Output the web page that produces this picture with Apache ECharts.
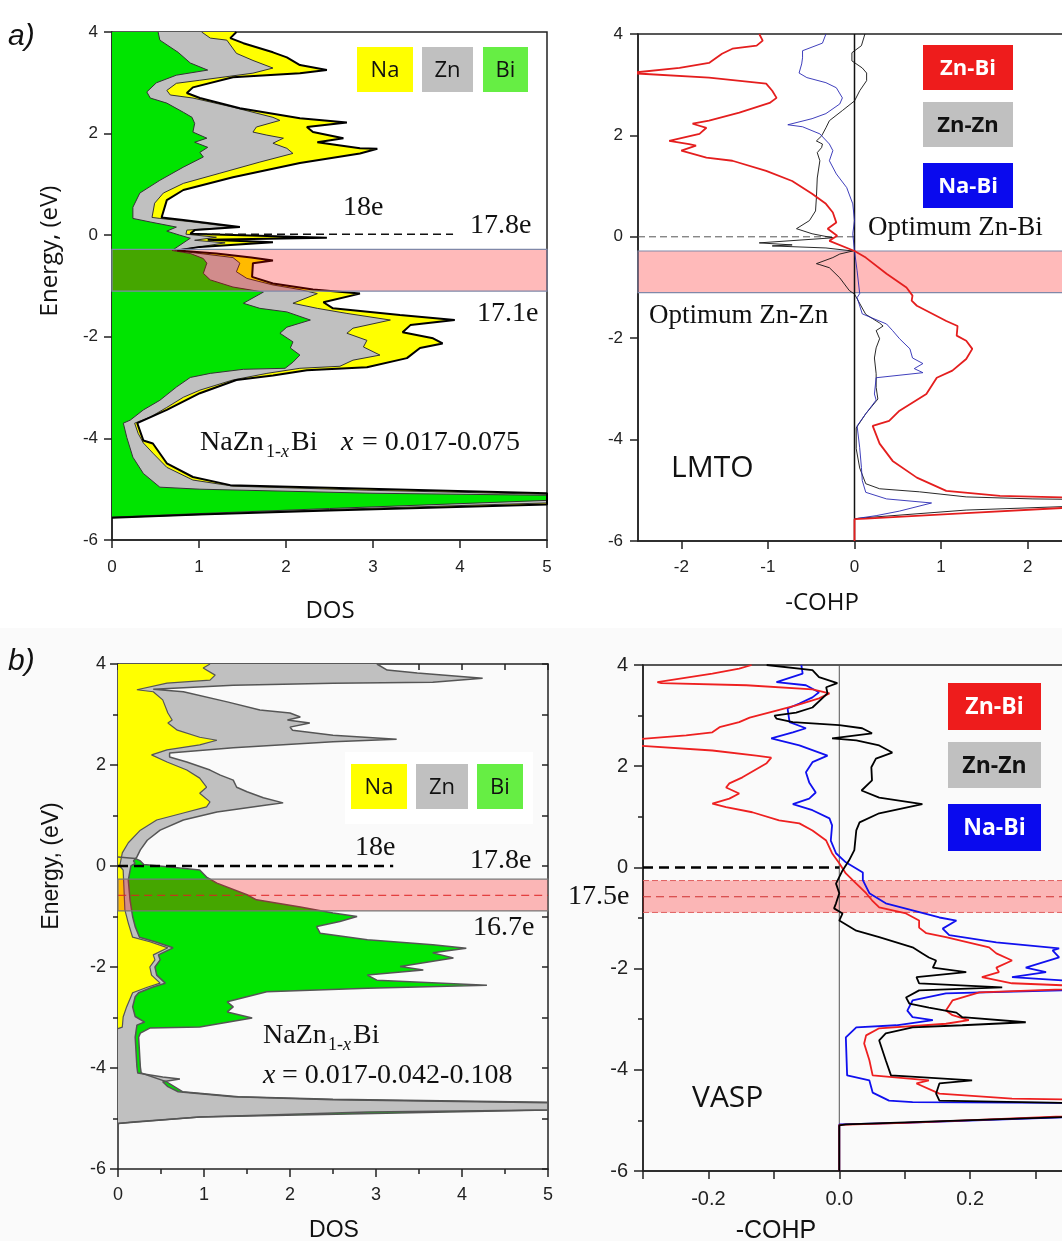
<!DOCTYPE html>
<html>
<head>
<meta charset="utf-8">
<script src="https://cdn.jsdelivr.net/npm/echarts@6/dist/echarts.min.js"></script>
<style>
  html, body { margin: 0; padding: 0; background: #fff; }
  #chart { width: 1062px; height: 1241px; }
</style>
</head>
<body>
<div id="chart"></div>
<script>
// ---- panel a, DOS edges [dos, energy] (stacked: Bi, Bi+Zn, total) ----
const aBi = [[0.53,4.0],[0.55,3.84],[0.76,3.6],[0.90,3.39],[1.10,3.25],[0.74,3.15],[0.51,3.0],[0.40,2.82],[0.44,2.70],[0.63,2.6],[0.82,2.42],[0.92,2.32],[0.95,2.2],[0.93,2.03],[1.09,1.91],[0.95,1.83],[1.10,1.73],[1.01,1.63],[1.05,1.54],[0.82,1.34],[0.55,1.08],[0.32,0.83],[0.24,0.55],[0.24,0.33],[0.44,0.26],[0.74,0.16],[0.63,0.08],[0.78,0.0],[0.90,-0.06],[0.69,-0.3],[0.90,-0.36],[1.05,-0.46],[1.09,-0.55],[1.05,-0.75],[1.13,-0.88],[1.39,-1.02],[1.74,-1.12],[1.51,-1.34],[1.70,-1.44],[2.01,-1.51],[2.28,-1.67],[2.01,-1.81],[1.93,-1.93],[2.08,-2.1],[2.05,-2.22],[2.16,-2.36],[2.08,-2.5],[1.99,-2.62],[1.51,-2.64],[1.13,-2.72],[0.90,-2.8],[0.74,-2.99],[0.55,-3.25],[0.36,-3.44],[0.21,-3.64],[0.13,-3.7],[0.17,-3.98],[0.24,-4.37],[0.36,-4.69],[0.55,-4.96],[1.01,-5.0],[3.0,-5.08],[5,-5.12],[5,-5.22],[2.5,-5.38],[1.0,-5.48],[0,-5.55]];
const aZn = [[1.03,4.0],[1.13,3.88],[1.32,3.84],[1.43,3.58],[1.62,3.44],[1.85,3.29],[1.62,3.19],[1.01,3.05],[0.74,2.99],[0.63,2.85],[0.67,2.76],[0.93,2.7],[1.39,2.52],[1.85,2.32],[1.93,2.26],[1.66,2.13],[1.62,2.03],[1.78,1.97],[1.97,1.91],[1.85,1.81],[2.01,1.71],[2.08,1.61],[1.70,1.44],[1.24,1.22],[0.82,1.02],[0.59,0.83],[0.49,0.63],[0.46,0.35],[0.55,0.33],[0.93,0.26],[1.39,0.16],[0.86,0.10],[0.85,0.02],[1.2,-0.04],[0.95,-0.1],[1.3,-0.15],[1.01,-0.23],[0.72,-0.3],[1.01,-0.36],[1.39,-0.44],[1.47,-0.55],[1.43,-0.72],[1.55,-0.85],[1.85,-0.98],[2.16,-1.07],[2.36,-1.15],[2.08,-1.34],[2.36,-1.44],[2.7,-1.54],[3.2,-1.67],[2.77,-1.83],[2.7,-1.93],[2.93,-2.07],[2.89,-2.2],[3.08,-2.36],[2.77,-2.46],[2.62,-2.58],[2.16,-2.62],[1.78,-2.72],[1.39,-2.85],[1.01,-3.05],[0.82,-3.19],[0.63,-3.39],[0.44,-3.58],[0.26,-3.7],[0.30,-3.9],[0.36,-4.09],[0.47,-4.29],[0.63,-4.57],[0.93,-4.82],[1.39,-4.94],[2.93,-5.02],[5,-5.1],[5,-5.27],[2.5,-5.4],[1.0,-5.5],[0,-5.56]];
const aTot = [[1.43,4.0],[1.36,3.88],[1.51,3.78],[1.85,3.6],[2.01,3.5],[2.16,3.35],[2.47,3.25],[2.16,3.19],[1.39,3.11],[0.93,2.91],[0.86,2.8],[1.01,2.7],[1.47,2.5],[2.16,2.3],[2.7,2.22],[2.24,2.13],[2.31,2.03],[2.66,1.91],[2.36,1.83],[2.85,1.71],[3.05,1.70],[2.85,1.61],[2.16,1.42],[1.39,1.14],[0.82,0.89],[0.63,0.69],[0.57,0.35],[0.82,0.3],[1.47,0.16],[0.95,0.1],[0.9,0.03],[2.47,-0.05],[1.1,-0.09],[1.85,-0.14],[1.01,-0.23],[0.75,-0.3],[1.2,-0.36],[1.6,-0.44],[1.85,-0.5],[1.62,-0.55],[1.61,-0.82],[1.85,-0.95],[2.31,-1.07],[2.85,-1.15],[2.43,-1.32],[2.54,-1.44],[3.31,-1.57],[3.94,-1.67],[3.43,-1.77],[3.34,-1.91],[3.69,-2.03],[3.8,-2.13],[3.54,-2.22],[3.39,-2.42],[2.93,-2.6],[2.24,-2.66],[1.85,-2.76],[1.43,-2.85],[1.01,-3.11],[0.63,-3.44],[0.29,-3.7],[0.36,-4.04],[0.47,-4.1],[0.63,-4.49],[0.93,-4.76],[1.36,-4.92],[5,-5.08],[5,-5.3],[2.5,-5.42],[1.0,-5.5],[0,-5.56]];

// ---- panel a, LMTO -COHP curves [cohp, energy] ----
const aZnBi = [[-1.10,4.0],[-1.06,3.87],[-1.13,3.77],[-1.41,3.71],[-1.53,3.61],[-1.68,3.43],[-2.02,3.33],[-2.6,3.23],[-1.68,3.14],[-1.02,3.02],[-0.95,2.88],[-0.9,2.74],[-0.98,2.64],[-1.33,2.45],[-1.68,2.29],[-1.87,2.23],[-1.71,2.15],[-1.79,2.03],[-2.14,1.89],[-1.91,1.83],[-1.83,1.8],[-2.0,1.7],[-1.71,1.56],[-1.41,1.5],[-1.02,1.3],[-0.72,1.1],[-0.49,0.85],[-0.33,0.65],[-0.25,0.48],[-0.21,0.28],[-0.31,0.16],[-0.2,0.02],[-0.29,-0.08],[0,-0.28],[0.13,-0.41],[0.37,-0.73],[0.6,-1.0],[0.67,-1.16],[0.66,-1.26],[0.72,-1.36],[1.06,-1.66],[1.19,-1.76],[1.18,-1.95],[1.29,-2.05],[1.36,-2.21],[1.29,-2.41],[1.13,-2.64],[0.95,-2.78],[0.83,-3.1],[0.52,-3.43],[0.4,-3.63],[0.21,-3.73],[0.29,-4.08],[0.44,-4.42],[0.72,-4.75],[1.06,-5.01],[1.68,-5.11],[2.6,-5.15],[2.6,-5.33],[1.29,-5.45],[0.13,-5.56],[0,-5.57],[0,-6]];
const aZnZn = [[0.12,4.0],[0.08,3.77],[-0.03,3.63],[-0.03,3.47],[0.09,3.33],[0.14,3.23],[0.14,3.08],[0.06,2.88],[0,2.68],[-0.14,2.49],[-0.29,2.29],[-0.33,2.15],[-0.38,1.99],[-0.44,1.89],[-0.37,1.83],[-0.38,1.76],[-0.43,1.66],[-0.4,1.5],[-0.43,1.16],[-0.44,0.77],[-0.45,0.51],[-0.52,0.32],[-0.67,0.16],[-0.49,0.06],[-0.25,-0.02],[-1.1,-0.12],[-0.72,-0.16],[-0.95,-0.18],[-0.33,-0.22],[-0.02,-0.28],[-0.17,-0.34],[-0.25,-0.41],[-0.44,-0.53],[-0.4,-0.55],[-0.29,-0.61],[-0.17,-0.81],[-0.06,-1.06],[0,-1.13],[0.13,-1.53],[0.29,-1.7],[0.33,-1.76],[0.25,-1.85],[0.29,-2.01],[0.25,-2.19],[0.23,-2.39],[0.25,-2.7],[0.25,-2.97],[0.27,-3.2],[0.13,-3.49],[0.02,-3.77],[0.02,-4.18],[0.06,-4.56],[0.13,-4.87],[0.29,-4.97],[0.75,-5.03],[1.29,-5.13],[2.06,-5.17],[2.6,-5.18],[2.6,-5.31],[1.29,-5.39],[0.13,-5.54],[0,-5.56],[0,-6]];
const aNaBi = [[-0.33,4.0],[-0.37,3.82],[-0.6,3.67],[-0.6,3.53],[-0.61,3.41],[-0.64,3.23],[-0.55,3.14],[-0.33,3.04],[-0.21,2.94],[-0.14,2.74],[-0.17,2.62],[-0.33,2.43],[-0.49,2.33],[-0.77,2.21],[-0.6,2.17],[-0.4,2.03],[-0.29,1.83],[-0.25,1.7],[-0.29,1.5],[-0.21,1.24],[-0.09,0.97],[-0.02,0.65],[0,0.32],[-0.02,0.06],[0,-0.28],[0.03,-0.67],[0.06,-1.12],[0.03,-1.2],[0.09,-1.52],[0.37,-1.72],[0.44,-1.85],[0.52,-2.01],[0.64,-2.21],[0.67,-2.39],[0.79,-2.5],[0.69,-2.6],[0.79,-2.68],[0.25,-2.78],[0.23,-3.1],[0.25,-3.22],[0.13,-3.49],[0.03,-3.73],[0.06,-4.16],[0.08,-4.55],[0.09,-4.81],[0.13,-5.04],[0.37,-5.17],[0.89,-5.25],[0.52,-5.41],[0.25,-5.5],[0.05,-5.55],[0,-5.57],[0,-6]];

// ---- panel b, DOS edges [dos, energy] (stacked: Na, Na+Zn, total) ----
const bNa = [[1.07,4.0],[0.99,3.92],[1.13,3.78],[1.07,3.68],[0.57,3.62],[0.22,3.49],[0.41,3.45],[0.52,3.29],[0.58,3.03],[0.63,2.89],[0.58,2.83],[0.69,2.69],[0.95,2.55],[1.15,2.49],[0.95,2.4],[0.57,2.3],[0.39,2.2],[0.57,2.06],[0.8,1.9],[0.95,1.74],[1.03,1.56],[0.95,1.44],[1.07,1.27],[1.03,1.17],[0.76,1.05],[0.45,0.91],[0.26,0.71],[0.12,0.46],[0.05,0.26],[0.02,0],[0.06,-0.08],[0.08,-0.87],[0.12,-1.13],[0.17,-1.41],[0.37,-1.5],[0.58,-1.62],[0.41,-1.76],[0.43,-1.86],[0.37,-2.0],[0.39,-2.16],[0.49,-2.32],[0.34,-2.4],[0.17,-2.51],[0.1,-2.79],[0.06,-2.99],[0.05,-3.19],[0,-3.22]];
const bZn = [[3.01,4.0],[3.13,3.88],[3.48,3.82],[4.24,3.72],[3.66,3.64],[2.5,3.62],[1.34,3.58],[0.41,3.5],[0.76,3.45],[1.27,3.25],[1.65,3.09],[2.0,3.03],[2.12,2.95],[1.97,2.89],[2.23,2.83],[2.0,2.75],[2.03,2.69],[2.5,2.59],[3.24,2.51],[2.5,2.46],[1.34,2.34],[0.6,2.24],[0.6,2.16],[0.8,2.06],[1.07,1.9],[1.19,1.8],[1.34,1.7],[1.38,1.56],[1.5,1.47],[1.69,1.35],[1.92,1.25],[1.73,1.21],[1.15,1.07],[0.76,0.91],[0.49,0.71],[0.34,0.51],[0.26,0.32],[0.22,0.18],[0.18,0.1],[0.2,0.05],[0.15,0],[0.12,-0.28],[0.14,-0.67],[0.17,-1.0],[0.2,-1.2],[0.25,-1.41],[0.43,-1.5],[0.64,-1.62],[0.47,-1.76],[0.49,-1.86],[0.43,-2.0],[0.45,-2.16],[0.55,-2.32],[0.4,-2.4],[0.24,-2.51],[0.2,-2.59],[0.17,-2.79],[0.2,-2.98],[0.31,-3.09],[0.22,-3.15],[0.2,-3.39],[0.22,-3.98],[0.23,-4.1],[0.52,-4.18],[0.72,-4.22],[0.52,-4.27],[0.58,-4.37],[0.7,-4.47],[1.34,-4.57],[2.5,-4.63],[5,-4.69],[5,-4.83],[2.9,-4.87],[0.95,-4.97],[0.17,-5.07],[0,-5.1]];
const bTot = [[0,0.18],[0.2,0.15],[0.26,0.1],[0.3,0.03],[0.6,-0.02],[0.95,-0.08],[1.03,-0.22],[1.15,-0.34],[1.5,-0.57],[1.61,-0.67],[2.12,-0.81],[2.5,-0.93],[2.78,-1.0],[2.58,-1.1],[2.31,-1.2],[2.35,-1.33],[2.9,-1.46],[3.66,-1.56],[4.05,-1.63],[3.66,-1.72],[3.9,-1.82],[3.28,-1.99],[3.55,-2.06],[2.9,-2.16],[3.01,-2.26],[4.29,-2.36],[2.9,-2.42],[1.73,-2.49],[1.27,-2.69],[1.34,-2.79],[1.27,-2.89],[1.56,-3.01],[0.95,-3.19],[0.37,-3.21],[0.26,-3.31],[0.24,-3.39],[0.26,-3.98],[0.27,-4.1],[0.56,-4.27],[0.75,-4.47],[1.4,-4.57],[2.5,-4.62],[5,-4.68],[5,-4.83],[0.95,-4.97],[0,-5.1]];

// ---- panel b, VASP -COHP curves [cohp, energy] ----
const bZnBi = [[-0.134,4.0],[-0.153,3.93],[-0.194,3.83],[-0.278,3.66],[-0.272,3.64],[-0.142,3.6],[-0.041,3.52],[-0.015,3.44],[-0.031,3.34],[-0.066,3.2],[-0.096,3.1],[-0.137,2.96],[-0.153,2.87],[-0.183,2.77],[-0.194,2.67],[-0.234,2.61],[-0.31,2.53],[-0.31,2.41],[-0.194,2.31],[-0.127,2.21],[-0.104,2.17],[-0.111,2.06],[-0.148,1.78],[-0.168,1.66],[-0.173,1.58],[-0.153,1.46],[-0.168,1.36],[-0.194,1.26],[-0.173,1.19],[-0.133,1.09],[-0.092,0.93],[-0.061,0.87],[-0.041,0.73],[-0.02,0.53],[-0.011,0.28],[0,0.08],[0.01,-0.12],[0.026,-0.32],[0.041,-0.51],[0.05,-0.65],[0.061,-0.79],[0.102,-0.91],[0.122,-1.05],[0.122,-1.19],[0.133,-1.3],[0.163,-1.38],[0.229,-1.58],[0.24,-1.7],[0.264,-1.84],[0.24,-1.98],[0.244,-2.07],[0.218,-2.17],[0.264,-2.29],[0.42,-2.37],[0.42,-2.4],[0.214,-2.47],[0.173,-2.63],[0.163,-2.83],[0.173,-2.92],[0.198,-3.02],[0.163,-3.09],[0.061,-3.18],[0.041,-3.32],[0.038,-3.48],[0.046,-3.81],[0.051,-4.11],[0.137,-4.21],[0.118,-4.27],[0.153,-4.47],[0.264,-4.57],[0.42,-4.6],[0.42,-4.88],[0.1,-5.05],[0,-5.09],[0,-6]];
const bNaBi = [[-0.058,4.0],[-0.056,3.83],[-0.096,3.66],[-0.051,3.6],[-0.031,3.46],[-0.041,3.36],[-0.061,3.24],[-0.079,3.14],[-0.076,2.87],[-0.051,2.75],[-0.071,2.67],[-0.104,2.55],[-0.061,2.41],[-0.018,2.21],[-0.041,2.08],[-0.051,1.88],[-0.046,1.68],[-0.036,1.48],[-0.046,1.36],[-0.071,1.25],[-0.041,1.13],[-0.015,0.97],[-0.011,0.83],[-0.013,0.53],[-0.005,0.28],[0.01,0.1],[0.036,-0.1],[0.036,-0.25],[0.046,-0.51],[0.071,-0.71],[0.112,-0.85],[0.153,-0.99],[0.179,-1.05],[0.158,-1.21],[0.168,-1.34],[0.24,-1.48],[0.336,-1.6],[0.326,-1.64],[0.336,-1.78],[0.285,-1.98],[0.316,-2.07],[0.264,-2.17],[0.42,-2.3],[0.42,-2.4],[0.163,-2.49],[0.112,-2.63],[0.104,-2.83],[0.112,-2.96],[0.143,-3.02],[0.087,-3.12],[0.026,-3.16],[0.01,-3.36],[0.012,-4.11],[0.046,-4.21],[0.051,-4.45],[0.076,-4.61],[0.112,-4.64],[0.42,-4.66],[0.42,-4.9],[0.1,-5.05],[0,-5.08],[0,-6]];
const bZnZn = [[-0.111,4.0],[-0.041,3.9],[-0.031,3.76],[-0.003,3.64],[-0.02,3.56],[-0.018,3.44],[-0.041,3.16],[-0.066,3.06],[-0.099,3.0],[-0.096,2.94],[-0.071,2.87],[0,2.81],[0.035,2.75],[0.05,2.65],[-0.011,2.55],[0.026,2.51],[0.061,2.41],[0.081,2.27],[0.056,2.15],[0.049,1.98],[0.05,1.72],[0.034,1.52],[0.061,1.38],[0.127,1.25],[0.061,1.07],[0.031,0.89],[0.026,0.73],[0.023,0.34],[0.015,0.14],[0.005,-0.06],[-0.005,-0.32],[0,-0.51],[-0.005,-0.71],[-0.008,-0.81],[0.005,-0.91],[0.0,-1.05],[0.026,-1.25],[0.061,-1.38],[0.112,-1.58],[0.127,-1.7],[0.137,-1.78],[0.148,-1.84],[0.143,-1.98],[0.194,-2.07],[0.118,-2.17],[0.122,-2.29],[0.249,-2.37],[0.122,-2.43],[0.102,-2.57],[0.107,-2.69],[0.137,-2.77],[0.179,-2.87],[0.188,-2.96],[0.285,-3.06],[0.188,-3.12],[0.112,-3.16],[0.071,-3.28],[0.061,-3.42],[0.071,-3.81],[0.079,-4.11],[0.203,-4.21],[0.153,-4.27],[0.148,-4.47],[0.153,-4.61],[0.42,-4.67],[0.42,-4.9],[0.01,-5.08],[0,-5.1],[0,-6]];

// ---- annotations: bands (energy top/bottom), Fermi level dashes, zero lines ----
const bandA = [-0.28, -1.1];
const bandB = [-0.26, -0.89];
const midB = [[-0.3, -0.58], [5, -0.58]];
const efDosA = [[1.0, 0.02], [3.92, 0.02]];
const efCohpA = [[-2.5, 0], [0, 0]];
const efDosB = [[0, 0], [3.2, 0]];
const efCohpB = [[-0.3, 0], [0, 0]];
const zeroLine = [[0, 4], [0, -6]];

// ---- ticks ----
const cohpATicks = [-2, -1, 0, 1, 2];
const cohpBTicks = [-0.3, -0.2, -0.1, 0, 0.1, 0.2, 0.3, 0.4];
const cohpBLabels = [-0.2, 0, 0.2, 0.4];
const dosBTopTicks = [0, 0.5, 1, 1.5, 2, 2.5, 3, 3.5, 4, 4.5, 5];
const energyTicks = [-6, -5, -4, -3, -2, -1, 0, 1, 2, 3, 4];

const SERIF = '"Liberation Serif", "Times New Roman", serif';
const SANS = '"Liberation Sans", Arial, sans-serif';
const OPEN = '"Open Sans", sans-serif';

const chart = echarts.init(document.getElementById('chart'));

// filled DOS region from x=0 to an edge curve
function dosFill(gi, pts, fill, z) {
  return {
    type: 'custom', xAxisIndex: gi, yAxisIndex: gi, z: z, silent: true, clip: true,
    data: pts,
    renderItem: function (params, api) {
      if (params.dataIndex !== 0) return null;
      const poly = [api.coord([0, pts[0][1]])];
      for (let i = 0; i < pts.length; i++) poly.push(api.coord(pts[i]));
      poly.push(api.coord([0, pts[pts.length - 1][1]]));
      return { type: 'polygon', shape: { points: poly }, style: { fill: fill } };
    }
  };
}

function curve(gi, pts, color, width, z, dash) {
  return {
    type: 'line', xAxisIndex: gi, yAxisIndex: gi, z: z, silent: true,
    data: pts, symbol: 'none', showSymbol: false, clip: true,
    lineStyle: { color: color, width: width, type: dash || 'solid' }
  };
}

function band(gi, ys, fill, stroke, z) {
  return {
    type: 'custom', xAxisIndex: gi, yAxisIndex: gi, z: z, silent: true,
    data: [ys], encode: { y: [0, 1] },
    renderItem: function (params, api) {
      const cs = params.coordSys;
      const y1 = api.coord([0, api.value(0)])[1];
      const y2 = api.coord([0, api.value(1)])[1];
      return { type: 'rect', shape: { x: cs.x, y: y1, width: cs.width, height: y2 - y1 },
        style: { fill: fill, stroke: stroke, lineWidth: stroke ? 1.2 : 0 } };
    }
  };
}

function txt(s, x, base, size, fam, o) {
  o = o || {};
  const k = fam === OPEN ? 0.388 : 0.34;
  return {
    type: 'text', x: x, y: base - k * size, z: 100, silent: true,
    style: {
      text: s, fontSize: size, fontFamily: fam,
      fontStyle: o.italic ? 'italic' : 'normal', fontWeight: o.bold ? 'bold' : 'normal',
      fill: o.color || '#111', textAlign: o.align || 'left',
      verticalAlign: 'middle', textVerticalAlign: 'middle'
    }
  };
}

function vtxt(s, x, y, size, fam) {
  return {
    type: 'text', x: x, y: y, rotation: Math.PI / 2, z: 100, silent: true,
    style: { text: s, fontSize: size, fontFamily: fam, fill: '#111',
      textAlign: 'center', verticalAlign: 'middle', textVerticalAlign: 'middle' }
  };
}

function box(x, y, w, h, fill, label, color, size, bold) {
  return [
    { type: 'rect', z: 99, silent: true, shape: { x: x, y: y, width: w, height: h }, style: { fill: fill } },
    { type: 'text', z: 100, silent: true, x: x + w / 2, y: y + h / 2 + 1,
      style: { text: label, fontSize: size, fontFamily: OPEN, fontWeight: bold ? 'bold' : 'normal',
        fill: color, textAlign: 'center', verticalAlign: 'middle', textVerticalAlign: 'middle' } }
  ];
}

const lineSt = { color: '#222', width: 1.5 };
function valAxis(gi, min, max, extra) {
  return Object.assign({
    gridIndex: gi, type: 'value', min: min, max: max,
    axisLine: { show: true, onZero: false, lineStyle: lineSt },
    axisTick: { show: true, length: 8, lineStyle: lineSt },
    splitLine: { show: false },
    axisLabel: { fontFamily: SANS, color: '#222', fontSize: 17 }
  }, extra);
}

function grid(l, t, w, h, border) {
  return { left: l, top: t, width: w, height: h, containLabel: false, outerBoundsMode: 'none',
    show: border, borderColor: '#222', borderWidth: 1.5, backgroundColor: 'transparent' };
}

const option = {
  animation: false,
  backgroundColor: '#fff',
  grid: [
    grid(112, 32, 435, 508, true),
    grid(638, 34, 433, 507, true),
    grid(118, 664, 430, 505, false),
    grid(643, 665, 458, 506, true)
  ],
  xAxis: [
    valAxis(0, 0, 5, { interval: 1, axisLabel: { fontFamily: SANS, color: '#222', fontSize: 17, margin: 19 } }),
    valAxis(1, -2.5, 2.5, {
      axisTick: { show: true, length: 8, lineStyle: lineSt, customValues: cohpATicks },
      axisLabel: { fontFamily: SANS, color: '#222', fontSize: 17, margin: 18, customValues: cohpATicks }
    }),
    valAxis(2, 0, 5, { interval: 1,
      minorTick: { show: true, splitNumber: 2, length: 5, lineStyle: lineSt },
      axisLabel: { fontFamily: SANS, color: '#222', fontSize: 18, margin: 17 } }),
    valAxis(3, -0.3, 0.4, {
      axisTick: { show: true, length: 8, lineStyle: lineSt, customValues: cohpBTicks },
      axisLabel: { fontFamily: SANS, color: '#222', fontSize: 20, margin: 18, customValues: cohpBLabels,
        formatter: function (v) { return v.toFixed(1); } }
    }),
    valAxis(2, 0, 5, { position: 'top',
      axisTick: { show: true, inside: true, length: 6, lineStyle: lineSt, customValues: dosBTopTicks },
      axisLabel: { show: false } })
  ],
  yAxis: [
    valAxis(0, -6, 4, { interval: 2, axisLabel: { fontFamily: SANS, color: '#222', fontSize: 17, margin: 14 } }),
    valAxis(1, -6, 4, { interval: 2, axisLabel: { fontFamily: SANS, color: '#222', fontSize: 17, margin: 15 } }),
    valAxis(2, -6, 4, { interval: 2,
      minorTick: { show: true, splitNumber: 2, length: 5, lineStyle: lineSt },
      axisLabel: { fontFamily: SANS, color: '#222', fontSize: 18, margin: 12 } }),
    valAxis(3, -6, 4, { interval: 2,
      minorTick: { show: true, splitNumber: 2, length: 5, lineStyle: lineSt },
      axisTick: { show: true, length: 9, lineStyle: lineSt },
      axisLabel: { fontFamily: SANS, color: '#222', fontSize: 20, margin: 15 } }),
    valAxis(2, -6, 4, { position: 'right',
      axisTick: { show: true, inside: true, length: 6, lineStyle: lineSt, customValues: energyTicks },
      axisLabel: { show: false } })
  ],
  series: [
    // a: DOS
    dosFill(0, aTot, '#ffff00', 2),
    dosFill(0, aZn, '#c0c0c0', 2),
    dosFill(0, aBi, '#00e400', 2),
    curve(0, aBi, '#333', 1, 3),
    curve(0, aZn, '#333', 1, 3),
    curve(0, aTot, '#000', 2, 3),
    band(0, bandA, 'rgba(255,0,0,0.27)', '#8088a8', 4),
    curve(0, efDosA, '#111', 1.5, 5, [8, 5]),
    // a: LMTO COHP
    band(1, bandA, 'rgba(255,0,0,0.27)', '#8088a8', 2),
    curve(1, efCohpA, '#555', 1, 3, [7, 4]),
    curve(1, zeroLine, '#111', 1.5, 3),
    curve(1, aZnZn, '#111', 0.9, 4),
    curve(1, aNaBi, '#2a2ab4', 0.9, 4),
    curve(1, aZnBi, '#e41e1e', 1.8, 5),
    // b: DOS
    dosFill(2, bTot, '#00e400', 2),
    dosFill(2, bZn, '#c0c0c0', 2),
    dosFill(2, bNa, '#ffff00', 2),
    curve(2, bTot, '#555', 1.5, 3),
    curve(2, bZn, '#555', 1.5, 3),
    curve(2, bNa, '#555', 1.2, 3),
    band(2, bandB, 'rgba(255,0,0,0.27)', '#777', 4),
    curve(2, midB, '#dd2020', 1, 5, [8, 5]),
    curve(2, efDosB, '#000', 2.5, 5, [10, 6]),
    // b: VASP COHP
    band(3, bandB, 'rgba(255,0,0,0.27)', null, 2),
    curve(3, [[-0.3, bandB[0]], [0.4, bandB[0]]], '#e06060', 1, 3, [6, 3]),
    curve(3, [[-0.3, bandB[1]], [0.4, bandB[1]]], '#e06060', 1, 3, [6, 3]),
    curve(3, [[-0.3, midB[0][1]], [0.4, midB[0][1]]], '#d03030', 1.2, 3, [8, 5]),
    curve(3, efCohpB, '#000', 2.5, 4, [10, 6]),
    curve(3, zeroLine, '#555', 1, 3),
    curve(3, bNaBi, '#1010ee', 1.8, 4),
    curve(3, bZnBi, '#ee2020', 1.8, 5),
    curve(3, bZnZn, '#000', 1.8, 6)
  ],
  graphic: { elements: [].concat(
    [{ type: 'rect', z: -10, silent: true, shape: { x: 0, y: 628, width: 1062, height: 613 }, style: { fill: '#fafafa' } },
     { type: 'rect', z: -9, silent: true, shape: { x: 345, y: 752, width: 188, height: 72 }, style: { fill: '#fff' } }],
    [txt('a)', 8, 47, 30, SANS, { italic: true }), txt('b)', 8, 672, 30, SANS, { italic: true })],
    [vtxt('Energy, (eV)', 50, 251, 24, OPEN), vtxt('Energy, (eV)', 52, 866, 23, SANS)],
    [txt('DOS', 330, 620, 24, OPEN, { align: 'center' }), txt('-COHP', 822, 612, 24, OPEN, { align: 'center' }),
     txt('DOS', 334, 1238, 23, SANS, { align: 'center' }), txt('-COHP', 776, 1240, 25, SANS, { align: 'center' })],
    box(357, 47, 56, 45, '#ffff00', 'Na', '#111', 22),
    box(422, 47, 51, 45, '#c0c0c0', 'Zn', '#111', 22),
    box(483, 47, 45, 45, '#66ee44', 'Bi', '#111', 22),
    box(923, 45, 90, 45, '#ee1c1c', 'Zn-Bi', '#fff', 22, true),
    box(923, 102, 90, 45, '#c0c0c0', 'Zn-Zn', '#111', 22, true),
    box(923, 163, 90, 45, '#0a0aee', 'Na-Bi', '#fff', 22, true),
    box(351, 764, 56, 45, '#ffff00', 'Na', '#111', 22),
    box(416, 764, 52, 45, '#c0c0c0', 'Zn', '#111', 22),
    box(477, 764, 46, 45, '#66ee44', 'Bi', '#111', 22),
    box(948, 683, 93, 47, '#ee1c1c', 'Zn-Bi', '#fff', 23, true),
    box(948, 742, 93, 46, '#c0c0c0', 'Zn-Zn', '#111', 23, true),
    box(948, 804, 93, 47, '#0a0aee', 'Na-Bi', '#fff', 23, true),
    [txt('18e', 343, 217, 28, SERIF), txt('17.8e', 470, 235, 28, SERIF), txt('17.1e', 477, 323, 28, SERIF),
     txt('NaZn', 200, 452, 28, SERIF), txt('1-', 266, 458, 18, SERIF), txt('x', 281, 458, 18, SERIF, { italic: true }),
     txt('Bi', 291, 452, 28, SERIF), txt('x', 341, 452, 28, SERIF, { italic: true }), txt('= 0.017-0.075', 362, 452, 28, SERIF),
     txt('Optimum Zn-Bi', 868, 237, 27, SERIF), txt('Optimum Zn-Zn', 649, 325, 27, SERIF),
     txt('LMTO', 671, 480, 30, OPEN)],
    [txt('18e', 355, 857, 28, SERIF), txt('17.8e', 470, 870, 28, SERIF), txt('16.7e', 473, 937, 28, SERIF),
     txt('17.5e', 568, 906, 28, SERIF),
     txt('NaZn', 263, 1045, 28, SERIF), txt('1-', 328, 1051, 18, SERIF), txt('x', 343, 1051, 18, SERIF, { italic: true }),
     txt('Bi', 353, 1045, 28, SERIF),
     txt('x', 263, 1085, 28, SERIF, { italic: true }), txt('= 0.017-0.042-0.108', 282, 1085, 28, SERIF),
     txt('VASP', 692, 1110, 30, OPEN)]
  ) }
};

chart.setOption(option);
</script>
</body>
</html>
